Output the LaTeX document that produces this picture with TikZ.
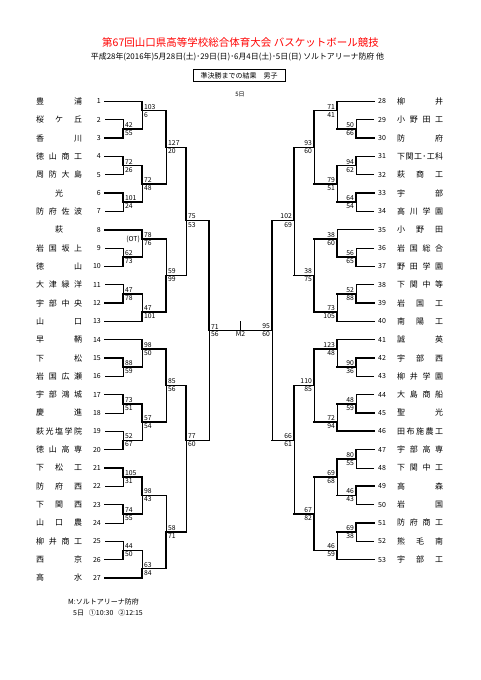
\documentclass[tikz,border=0pt]{standalone}
\usepackage{fontspec}
\setmainfont{Noto Sans CJK JP}
\usepackage{xcolor}
\usepackage{tikz}
\usetikzlibrary{calc}

\newcommand\titlefont{\fontsize{10.5pt}{12pt}\selectfont}
\newcommand\subfont{\fontsize{7.9pt}{9pt}\selectfont}
\newcommand\boxfont{\fontsize{7pt}{8pt}\selectfont}
\newcommand\dayfont{\fontsize{6pt}{7pt}\selectfont}
\newcommand\namefont{\fontsize{8pt}{9pt}\selectfont}
\newcommand\numfont{\fontsize{7pt}{8pt}\selectfont}
\newcommand\scorefont{\fontsize{6.8pt}{8pt}\selectfont}
\newcommand\notefont{\fontsize{7pt}{8pt}\selectfont}

\newlength\namewd
\setlength\namewd{46pt}
\makeatletter
\def\spreadname#1{\edef\sp@tmp{#1}\hbox to\namewd{\hskip0pt plus .001fil\expandafter\sp@first\sp@tmp\@nil\hskip0pt plus .001fil}}
\def\sp@first#1{#1\sp@rest}
\def\sp@rest#1{\ifx#1\@nil\else\hfil#1\expandafter\sp@rest\fi}
\makeatother

\begin{document}
\begin{tikzpicture}[x=1pt,y=-1pt,
    tname/.style={inner sep=0pt,font=\namefont},
    num/.style={inner xsep=4pt,inner ysep=0pt,font=\numfont},
    score/.style={inner xsep=2pt,inner ysep=1.3pt,font=\scorefont},
    win/.style={line width=1.6pt,line cap=rect},
    lose/.style={line width=0.7pt}]
\useasboundingbox (0,0) rectangle (481,680);
\node[text=red,font=\titlefont] (title) at (240.5,42) {第67回山口県高等学校総合体育大会 バスケットボール競技};
\node[font=\subfont] (sub) at (237.5,57) {平成28年(2016年)5月28日(土)･29日(日)･6月4日(土)･5日(日) ソルトアリーナ防府 他};
\node[draw,line width=0.6pt,font=\boxfont,minimum width=92pt,minimum height=12pt,inner sep=0pt] (head) at (239,75.5) {準決勝までの結果　男子};
\node[font=\dayfont] (day) at (240,94) {5日};

\begin{scope}[yshift=-101.5pt,y=-9.16pt]
\foreach \i/\nm in {1/豊浦,2/桜ケ丘,3/香川,4/徳山商工,5/周防大島,6/光,7/防府佐波,
    8/萩,9/岩国坂上,10/徳山,11/大津緑洋,12/宇部中央,13/山口,14/早鞆,15/下松,
    16/岩国広瀬,17/宇部鴻城,18/慶進,19/萩光塩学院,20/徳山高専,21/下松工,22/防府西,
    23/下関西,24/山口農,25/柳井商工,26/西京,27/高水} {
  \node[tname,anchor=west] (n\i) at (36,{2*(\i-1)}) {\spreadname{\nm}};
  \node[num,anchor=east] (l\i) at (105,{2*(\i-1)}) {\i};
}
\foreach \j/\nm in {28/柳井,29/小野田工,30/防府,31/下関工･工科,32/萩商工,33/宇部,
    34/高川学園,35/小野田,36/岩国総合,37/野田学園,38/下関中等,39/岩国工,40/南陽工,
    41/誠英,42/宇部西,43/柳井学園,44/大島商船,45/聖光,46/田布施農工,47/宇部高専,
    48/下関中工,49/高森,50/岩国,51/防府商工,52/熊毛南,53/宇部工} {
  \node[tname,anchor=west] (n\j) at (397,{2*(\j-28)}) {\spreadname{\nm}};
  \node[num,anchor=west] (r\j) at (374,{2*(\j-28)}) {\j};
}

\foreach \id/\x/\k/\a/\b/\ta/\tb/\sa/\sb/\px in {
    A1/123/3/l2.east/l3.east/lose/win/42/55/142,
    A2/142/1/l1.east/A1/win/lose/103/6/166,
    A3/123/7/l4.east/l5.east/win/lose/72/26/142,
    A4/123/11/l6.east/l7.east/win/lose/101/24/142,
    A5/142/9/A3/A4/win/lose/72/48/166,
    A6/166/5/A2/A5/win/lose/127/20/186,
    B1/123/17/l9.east/l10.east/lose/win/62/73/142,
    B2/142/15/l8.east/B1/win/lose/78/76/166,
    B3/123/21/l11.east/l12.east/lose/win/47/78/142,
    B4/142/23/B3/l13.east/lose/win/47/101/166,
    B5/166/19/B2/B4/lose/win/59/99/186,
    AB/186/13/A6/B5/win/lose/75/53/209,
    C1/123/29/l15.east/l16.east/win/lose/88/59/142,
    C2/142/27/l14.east/C1/win/lose/98/50/166,
    C3/123/33/l17.east/l18.east/win/lose/73/51/142,
    C4/123/37/l19.east/l20.east/lose/win/52/67/142,
    C5/142/35/C3/C4/win/lose/57/54/166,
    C6/166/31/C2/C5/win/lose/85/56/186,
    D1/123/41/l21.east/l22.east/win/lose/105/31/142,
    D2/123/45/l23.east/l24.east/win/lose/74/55/142,
    D3/142/43/D1/D2/win/lose/98/43/166,
    D4/123/49/l25.east/l26.east/lose/win/44/50/142,
    D5/142/51/D4/l27.east/lose/win/63/84/166,
    D6/166/47/D3/D5/lose/win/58/71/186,
    CD/186/37/C6/D6/win/lose/77/60/209,
    SL/209/25/AB/CD/win/lose/71/56/209} {
  \coordinate (\id) at (\x,\k);
  \draw[\ta] (\a) -| (\id);
  \draw[\tb] (\b) -| (\id);
  \draw[win] (\id) -- (\px,\k);
  \node[score,anchor=south west] (\id a) at (\id) {\sa};
  \node[score,anchor=north west] (\id b) at (\id) {\sb};
}

\foreach \id/\x/\k/\a/\b/\ta/\tb/\sa/\sb/\px in {
    E1/356/3/r29.west/r30.west/lose/win/50/66/337,
    E2/337/1/r28.west/E1/win/lose/71/41/314,
    E3/356/7/r31.west/r32.west/win/lose/94/62/337,
    E4/356/11/r33.west/r34.west/win/lose/64/54/337,
    E5/337/9/E3/E4/win/lose/79/51/314,
    E6/314/5/E2/E5/win/lose/93/60/294,
    F1/356/17/r36.west/r37.west/lose/win/56/65/337,
    F2/337/15/r35.west/F1/lose/win/38/60/314,
    F3/356/21/r38.west/r39.west/lose/win/52/88/337,
    F4/337/23/F3/r40.west/lose/win/73/105/314,
    F5/314/19/F2/F4/lose/win/38/75/294,
    EF/294/13/E6/F5/win/lose/102/69/272,
    G1/356/29/r42.west/r43.west/win/lose/90/36/337,
    G2/337/27/r41.west/G1/win/lose/123/48/314,
    G3/356/33/r44.west/r45.west/lose/win/48/59/337,
    G4/337/35/G3/r46.west/lose/win/72/94/314,
    G5/314/31/G2/G4/win/lose/110/85/294,
    H1/356/39/r47.west/r48.west/win/lose/80/55/337,
    H2/356/43/r49.west/r50.west/win/lose/46/43/337,
    H3/337/41/H1/H2/win/lose/69/68/314,
    H4/356/47/r51.west/r52.west/win/lose/69/38/337,
    H5/337/49/H4/r53.west/lose/win/46/59/314,
    H6/314/45/H3/H5/lose/win/67/82/294,
    GH/294/37/G5/H6/win/lose/66/61/272,
    SR/272/25/EF/GH/win/lose/95/60/272} {
  \coordinate (\id) at (\x,\k);
  \draw[\ta] (\a) -| (\id);
  \draw[\tb] (\b) -| (\id);
  \draw[win] (\id) -- (\px,\k);
  \node[score,anchor=south east] (\id a) at (\id) {\sa};
  \node[score,anchor=north east] (\id b) at (\id) {\sb};
}

\node[score,anchor=east] (ot) at (142,15) {(OT)};
\draw[lose] (SL) -- (SR);
\coordinate (fin) at ($(SL)!.5!(SR)$);
\draw[lose] (fin) -- ++(0,-1);
\node[score,anchor=north] (m2) at (fin) {M2};
\end{scope}

\node[font=\notefont,anchor=west,inner sep=0pt] (note1) at (68,602) {M:ソルトアリーナ防府};
\node[font=\notefont,anchor=west,inner sep=0pt] (note2) at (73,613) {5日\hspace{.7em}①10:30\hspace{.7em}②12:15};
\end{tikzpicture}
\end{document}
